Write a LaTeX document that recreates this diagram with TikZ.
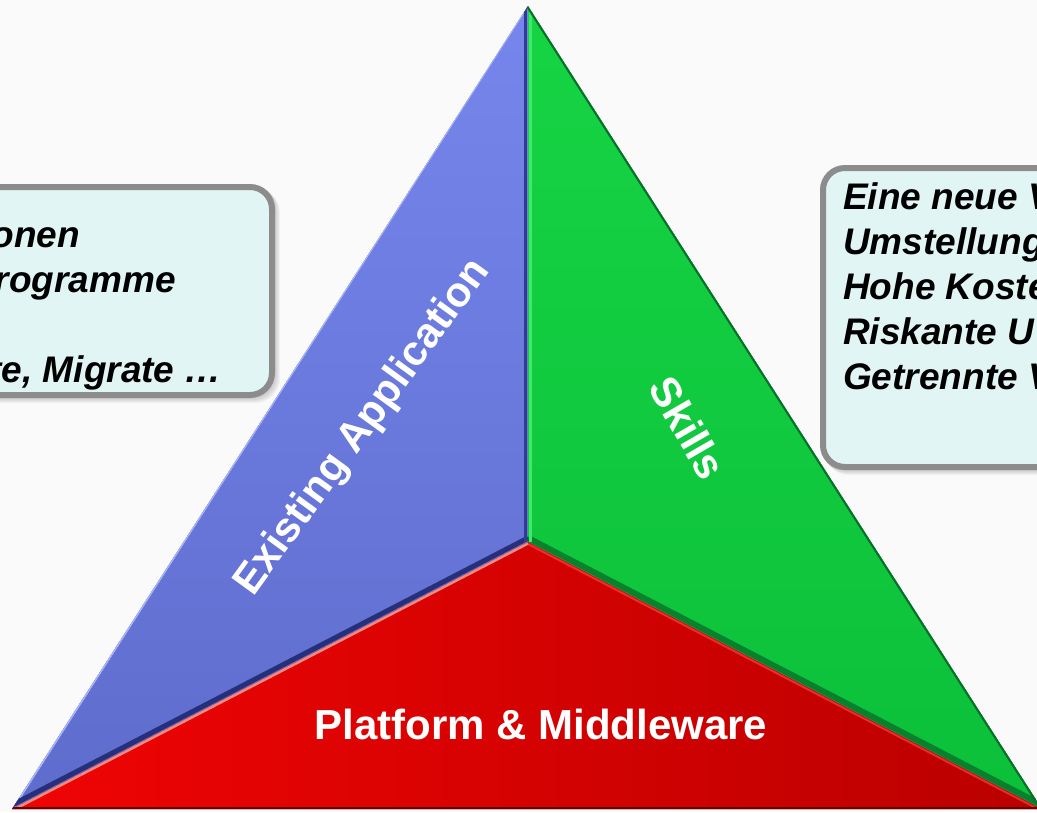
\documentclass[tikz,border=0pt]{standalone}
\usepackage{fontspec}
\setmainfont{Liberation Sans}
\usetikzlibrary{calc}
\definecolor{bgc}{HTML}{FAFAFA}
\definecolor{boxfill}{HTML}{E1F5F4}
\definecolor{boxline}{HTML}{8C8C8C}
\definecolor{blueTop}{HTML}{7686EC}
\definecolor{blueBot}{HTML}{5E6CCC}
\definecolor{greenTop}{HTML}{16D444}
\definecolor{greenBot}{HTML}{0CC03A}
\definecolor{redL}{HTML}{F00404}
\definecolor{redR}{HTML}{BA0000}
\definecolor{navy}{HTML}{26307A}
\definecolor{pinkhl}{HTML}{F28A84}
\definecolor{dkgreen}{HTML}{08702A}
\definecolor{ltgreen}{HTML}{40E870}
\definecolor{ltblue}{HTML}{A8B6FF}
\definecolor{dkred}{HTML}{6A0000}
\tikzset{
  boxtext/.style={font=\fontsize{37}{45}\selectfont\bfseries\itshape, text=black, inner sep=0pt},
  trilabel/.style={font=\fontsize{42}{50}\selectfont\bfseries, text=white, inner sep=0pt},
  infobox/.style={rounded corners=22pt, line width=6pt, draw=boxline, fill=boxfill}
}
\begin{document}
\begin{tikzpicture}[x=1pt,y=-1pt]
\fill[bgc] (0,0) rectangle (1037,812);
\useasboundingbox (0,0) rectangle (1037,812);
\coordinate (A) at (528,6);
\coordinate (L) at (12,809);
\coordinate (R) at (1042,809);
\coordinate (C) at (528,542);
% triangle shadow
\foreach \i in {1,...,18}{
  \fill[black,opacity=0.035,xshift=\i*1.4pt,yshift=-\i*0.3pt] (A) -- (L) -- (R) -- cycle;
}
% box shadows
\foreach \i in {1,...,5}{
  \fill[black,opacity=0.035,rounded corners=24pt,xshift=\i*1pt,yshift=-\i*1pt] (-40,184) rectangle (275,398);
  \fill[black,opacity=0.035,rounded corners=24pt,xshift=\i*1pt,yshift=-\i*1pt] (820,165) rectangle (1080,470);
}
% faces
\begin{scope}
\clip (A) -- (L) -- (R) -- cycle;
\shade[top color=blueTop, bottom color=blueBot] (A) -- (C) -- (L) -- cycle;
\shade[top color=greenTop, bottom color=greenBot] (A) -- (R) -- (C) -- cycle;
\shade[left color=redL, right color=redR] (L) -- (C) -- (R) -- cycle;
% edge details
\draw[ltblue, line width=3pt] ($(A)+(-1,0)$) -- ($(L)+(0,0)$);
\draw[navy, line width=5pt] ($(L)+(0,-4)$) -- ($(C)+(0,-4)$);
\draw[pinkhl, line width=2.5pt] ($(L)+(0,1.5)$) -- ($(C)+(0,1.5)$);
\draw[dkgreen, line width=6pt, opacity=0.8] ($(C)+(0,-4)$) -- ($(R)+(0,-4)$);
\draw[red!70!white, line width=2pt, opacity=0.6] ($(C)+(0,2)$) -- ($(R)+(0,2)$);
\draw[navy!80!blueBot, line width=3pt] ($(A)+(-2.5,0)$) -- ($(C)+(-2.5,0)$);
\draw[ltgreen, line width=3pt] ($(A)+(2.5,0)$) -- ($(C)+(2.5,0)$);
\draw[dkgreen, line width=4pt] (A) -- (R);
\draw[dkred, line width=6pt] ($(L)+(0,1)$) -- ($(R)+(0,1)$);
\end{scope}
% labels on faces
\node[trilabel, rotate=54, anchor=base] (existing) at (372,434) {Existing Application};
\node[trilabel, rotate=-60] (skills) at (688,428) {Skills};
\node[trilabel, anchor=base] (platform) at (541,739) {Platform \& Middleware};
% left box
\draw[infobox] (-40,187) rectangle (272,395);
\node[boxtext, anchor=base east] (l1) at (80,247) {onen};
\node[boxtext, anchor=base east] (l2) at (176,292) {rogramme};
\node[boxtext, anchor=base east] (l3) at (222,382) {te, Migrate …};
% right box
\draw[infobox] (823,168) rectangle (1080,467);
\node[boxtext, anchor=base west] (r1) at (843,209) {Eine neue V};
\node[boxtext, anchor=base west] (r2) at (843,254) {Umstellung};
\node[boxtext, anchor=base west] (r3) at (843,299) {Hohe Koste};
\node[boxtext, anchor=base west] (r4) at (843,344) {Riskante U};
\node[boxtext, anchor=base west] (r5) at (843,389) {Getrennte V};
\end{tikzpicture}
\end{document}
